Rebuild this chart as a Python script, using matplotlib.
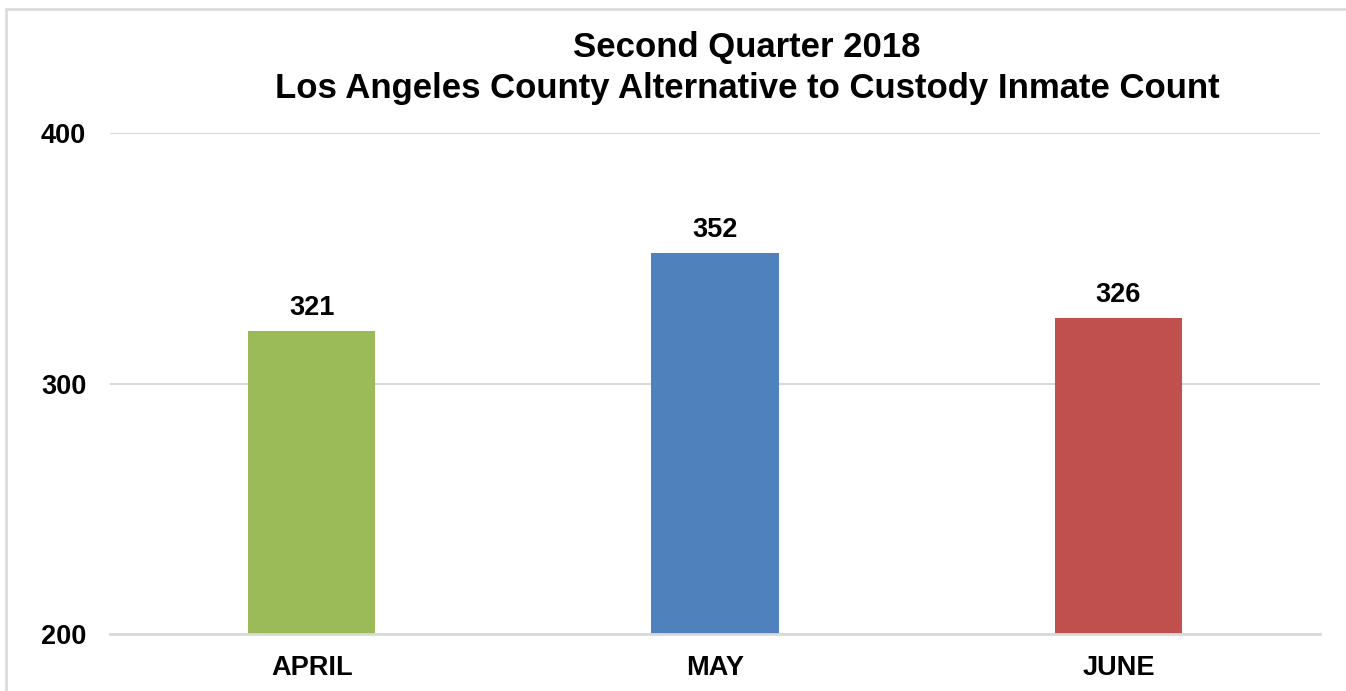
import matplotlib.pyplot as plt
from matplotlib.patches import Rectangle

plt.rcParams['font.family'] = ['Liberation Sans', 'DejaVu Sans']

months = ['APRIL', 'MAY', 'JUNE']
counts = [321, 352, 326]
bar_colors = ['#9BBB59', '#4F81BD', '#C0504D']
y_ticks = [200, 300, 400]

fig = plt.figure(figsize=(13.46, 6.91), dpi=100)
ax = fig.add_axes([0.0817, 0.0825, 0.899, 0.725])

# light frame round the chart area
fig.patches.append(Rectangle((6 / 1346, -0.1), 1.2, 1 - 9 / 691 + 0.1,
                             transform=fig.transFigure, fill=False,
                             edgecolor='#D9D9D9', linewidth=1.8))

x = range(len(months))
bars = ax.bar(x, counts, width=0.315, color=bar_colors, zorder=3)

for b, v in zip(bars, counts):
    ax.text(b.get_x() + b.get_width() / 2, v + 4, f'{v}', ha='center', va='bottom',
            fontsize=19.5, fontweight='bold')

ax.set_xlim(-0.5, 2.5)
ax.set_ylim(200, 400)
ax.set_yticks(y_ticks)
ax.set_xticks(list(x))
ax.set_xticklabels(months)
ax.grid(axis='y', color='#D9D9D9', linewidth=1.5, zorder=0)
ax.set_axisbelow(True)
for s in ax.spines.values():
    s.set_visible(False)
ax.axhline(200, color='#D9D9D9', linewidth=2, zorder=4, clip_on=False)
ax.tick_params(length=0)
ax.tick_params(axis='y', pad=17, labelsize=19.5)
ax.tick_params(axis='x', pad=15, labelsize=19.5)
for lbl in ax.get_xticklabels() + ax.get_yticklabels():
    lbl.set_fontweight('bold')

fig.text(0.555, 0.902, 'Second Quarter 2018\nLos Angeles County Alternative to Custody Inmate Count',
         ha='center', va='center', fontsize=25, fontweight='bold', linespacing=1.3)

fig.savefig('out.png', dpi=100)
